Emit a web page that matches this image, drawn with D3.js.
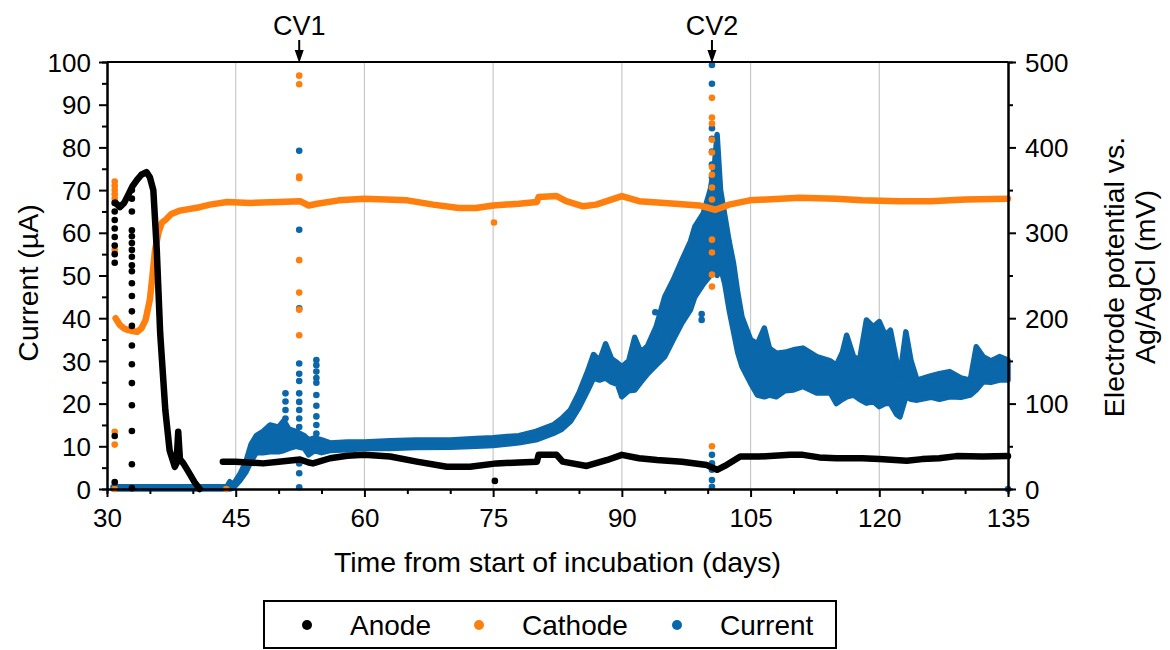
<!DOCTYPE html>
<html lang="en">
    <head>
        <meta charset="UTF-8" />
        <title>Electrode potential and current</title>
        <script src="https://cdnjs.cloudflare.com/ajax/libs/d3/7.9.0/d3.min.js"></script>
        <style>
            body {
                margin: 0;
                background: #fff;
            }
            svg {
                font-family: "Liberation Sans", Arial, sans-serif;
            }
            .axis path,
            .axis line {
                stroke: #000;
                stroke-width: 2px;
            }
            .axis text {
                font-size: 26px;
                fill: #000;
            }
            .grid {
                stroke: #c8c8c8;
                stroke-width: 1.2px;
            }
            .title {
                font-size: 28.5px;
                fill: #000;
            }
        </style>
    </head>
    <body>
        <svg width="1170" height="650"></svg>
        <script>
            // anode potential (mV, right axis), null = gap in logging
            const anodeDays = [31.0, 31.5, 32.0, 32.5, 33.0, 33.5, 34.0, 34.6, 35.0, 35.4, 35.8, 36.2, 36.8, 37.3, 37.9, 38.1, 38.3, 38.5, 38.9, 39.5, 40.2, 40.8, 42, 43.5, 45, 48.2, 50, 52.5, 53.5, 54, 56, 58, 60, 63, 66.1, 69.6, 72.3, 75.4, 78, 80.1, 80.3, 82.4, 83.1, 85.9, 88.3, 90, 92, 94.1, 97, 99.9, 101.1, 102, 103.8, 106, 109.6, 111.1, 113, 115, 118, 120, 123.2, 125, 127, 129, 132, 135];
            const anodeMv = [335, 330, 335, 345, 355, 362, 368, 371, 365, 350, 280, 182, 92, 45, 26, 30, 67, 35, 30, 20, 8, 0, null, 32, 32, 30, 32, 34.5, 31, 30, 36, 39, 40, 38, 32, 26, 26, 30, 31, 32, 40, 40, 32, 27, 34, 40, 36, 34, 32, 28, 22.5, 27, 38, 38, 40, 40, 37, 36, 36, 35, 33, 35, 36, 38.5, 38, 38.5];

            // cathode potential (mV, right axis)
            const cathodeDays = [31.0, 31.5, 32.0, 32.5, 33.0, 33.5, 34.0, 34.5, 35.0, 35.3, 35.6, 36.0, 36.4, 36.8, 37.5, 38.5, 40.8, 42, 44, 46.7, 50, 52.5, 53.5, 54.5, 57, 60, 65, 68, 71, 73, 75, 78, 80.1, 80.3, 82.4, 83.5, 85.5, 87, 88.5, 90, 92, 95, 99, 100.9, 102.5, 104.9, 110.7, 115, 118, 122.4, 126, 130, 135];
            const cathodeMv = [200, 192, 188, 186, 185, 184, 188, 198, 222, 250, 280, 300, 312, 315, 322, 326, 330, 333, 336, 335, 336, 337, 332, 334, 338, 340, 338, 333, 329, 329, 332, 334, 336, 342, 343, 337, 331, 333, 338, 343, 337, 335, 332, 327, 333, 338, 341, 340, 338, 337, 337, 339, 340];

            // current (uA, left axis): lower and upper edge of the noisy band
            const currentDays = [30.7, 44.0, 44.3, 44.7, 45.5, 46.2, 46.8, 47.4, 48.2, 49, 50, 50.6, 51.2, 52, 53, 53.5, 54.2, 55, 56, 58, 60, 63, 66, 70, 73, 75, 78, 80, 82, 83, 84, 85, 86, 86.7, 87.4, 88.1, 88.8, 89.5, 90, 90.8, 91.5, 92.2, 93, 94, 95, 96, 97, 98, 98.5, 99.5, 100.3, 100.8, 101.1, 101.5, 102, 102.5, 103, 103.5, 104, 105, 105.8, 106.6, 107.2, 108, 109, 110, 111.1, 112.7, 114.3, 115, 115.7, 116.2, 117, 117.7, 118.5, 119.3, 120, 120.7, 121.3, 122, 122.4, 123.1, 123.7, 124.4, 126, 127, 128.2, 129.5, 130.6, 131.3, 132.1, 133, 134, 135];
            const currentLow = [0, 0, 0, 0.2, 2, 4, 6.5, 8.5, 8.5, 8.7, 8.7, 9, 9.5, 10, 9.5, 8, 9, 8.5, 9, 9.2, 9.5, 9.5, 9.7, 9.8, 10, 10.2, 10.8, 11.5, 13, 14, 15.8, 19, 23, 26, 25.5, 26, 25, 24.5, 21.6, 23, 23.2, 25, 27, 29, 31, 35, 38.9, 42, 45, 48, 50, 52, 50, 52, 48, 42, 37, 32, 28.7, 24.8, 22, 21.6, 22, 21.6, 23, 23.2, 24, 22.5, 22.5, 20, 21, 21.6, 22, 21, 20.1, 20.5, 19.3, 20, 20, 17.5, 16.9, 21.6, 21, 20.8, 21.5, 21, 21.6, 21.5, 22, 23.2, 25.1, 25, 25.5, 25.5];
            const currentHigh = [0.5, 0.6, 1.7, 1.0, 3.5, 6.5, 10.5, 12.5, 13.5, 15, 14.5, 16, 14, 13.5, 12.5, 11.5, 12, 11.5, 10.8, 11, 11, 11.3, 11.5, 11.5, 11.8, 12, 12.5, 13.5, 15, 16.5, 18.5, 22.5, 27.5, 31.5, 30, 34, 30.5, 29.5, 28.6, 30, 35.5, 32, 33.5, 38, 45, 49, 53.6, 58, 61.4, 64.6, 70, 76, 83, 70, 64, 58, 53, 46, 40.3, 35, 34, 37.7, 33, 31.8, 32, 32.6, 33, 31, 30, 29, 32, 36, 31, 30.2, 39.6, 38, 39.2, 36, 37.2, 30, 26.3, 36.8, 30, 25.5, 26.5, 27, 27.5, 26, 25.5, 33.3, 31, 30, 31, 30.2];

            // single readings: [day, values at that day]
            const anodeSpots = [
                [30.9, [265, 275, 285, 295, 305, 315, 325, 335, 62, 8]],
                [32.9, [350, 340, 325, 303, 296, 288, 280, 272, 262, 255, 241, 226, 208, 191, 168, 146, 124, 98, 68, 29, 1]],
                [75.2, [9.5]],
            ];
            const cathodeSpots = [
                [30.9, [360, 355, 350, 345, 340, 335, 280, 67, 52, 0]],
                [43.9, [0]],
                [52.4, [484, 474, 366, 364, 268, 230, 210, 180]],
                [75.1, [312]],
                [100.5, [458, 435, 428, 409, 394, 377, 368, 353, 339, 292, 277, 251, 237, 50]],
            ];
            const currentSpots = [
                [50.8, [22.4, 20.5, 18.5, 16.5]],
                [52.4, [79.2, 60.7, 42.3, 29.4, 27, 25.3, 22.4, 20.4, 18.5, 16.5, 14.5, 6, 3.7, 0.4]],
                [54.4, [30.2, 29, 27.5, 26, 24.9, 22, 19.5, 17, 15, 13]],
                [93.9, [41.4]],
                [99.3, [39.6, 41]],
                [100.5, [99.3, 94.9, 84.5, 82, 79, 76, 73, 8, 6, 4.5, 2.1, 0.5]],
                [135, [0]],
            ];

            const cvLabels = ["CV1", "CV2"];
            const cvDays = [52.4, 100.5];
            const legendNames = ["Anode", "Cathode", "Current"];

            const xTicks = [30, 45, 60, 75, 90, 105, 120, 135];
            const leftTicks = [0, 10, 20, 30, 40, 50, 60, 70, 80, 90, 100];
            const rightTicks = [0, 100, 200, 300, 400, 500];

            const colors = { anode: "#000000", cathode: "#ff7f0e", current: "#0a67a9" };

            const plot = { left: 107, right: 1008, top: 62, bottom: 489 };
            const svg = d3.select("svg");

            const x = d3.scaleLinear().domain([30, 135]).range([plot.left, plot.right]);
            const yL = d3.scaleLinear().domain([0, 100]).range([plot.bottom, plot.top]);
            const yR = d3.scaleLinear().domain([0, 500]).range([plot.bottom, plot.top]);

            // vertical grid
            svg.append("g")
                .selectAll("line")
                .data(xTicks.slice(1, -1))
                .enter()
                .append("line")
                .attr("class", "grid")
                .attr("x1", (d) => x(d))
                .attr("x2", (d) => x(d))
                .attr("y1", plot.top)
                .attr("y2", plot.bottom);

            // current band
            const idx = (arr) => d3.range(arr.length);
            const band = d3
                .area()
                .x((i) => x(currentDays[i]))
                .y0((i) => yL(currentLow[i]))
                .y1((i) => yL(currentHigh[i]));
            svg.append("path")
                .attr("d", band(idx(currentDays)))
                .attr("fill", colors.current)
                .attr("stroke", colors.current)
                .attr("stroke-width", 5.5)
                .attr("stroke-linejoin", "round");

            const drawSpots = (spots, y, color) => {
                const pts = [];
                spots.forEach(([day, vals]) => vals.forEach((v) => pts.push([day, v])));
                svg.append("g")
                    .selectAll("circle")
                    .data(pts)
                    .enter()
                    .append("circle")
                    .attr("cx", (d) => x(d[0]))
                    .attr("cy", (d) => y(d[1]))
                    .attr("r", 3.3)
                    .attr("fill", color);
            };
            drawSpots(currentSpots, yL, colors.current);

            const trace = (days, vals, color) => {
                const line = d3
                    .line()
                    .defined((i) => vals[i] != null)
                    .x((i) => x(days[i]))
                    .y((i) => yR(vals[i]));
                svg.append("path")
                    .attr("d", line(idx(days)))
                    .attr("fill", "none")
                    .attr("stroke", color)
                    .attr("stroke-width", 6.5)
                    .attr("stroke-linejoin", "round")
                    .attr("stroke-linecap", "round");
            };
            trace(cathodeDays, cathodeMv, colors.cathode);
            drawSpots(cathodeSpots, yR, colors.cathode);
            trace(anodeDays, anodeMv, colors.anode);
            drawSpots(anodeSpots, yR, colors.anode);

            // axes
            const minor = (from, to, step, skip) => d3.range(from, to + 0.001, step).filter((v) => !skip.includes(v));

            const bottom = svg.append("g").attr("class", "axis").attr("transform", `translate(0,${plot.bottom})`);
            bottom.call(d3.axisBottom(x).tickValues(xTicks).tickSize(8).tickSizeOuter(0));
            bottom.selectAll("text").attr("y", 38).attr("dy", 0);
            bottom.append("g").call(d3.axisBottom(x).tickValues(minor(30, 135, 5, xTicks)).tickSize(5).tickFormat(""));

            const left = svg.append("g").attr("class", "axis").attr("transform", `translate(${plot.left},0)`);
            left.call(d3.axisLeft(yL).tickValues(leftTicks).tickSize(8).tickSizeOuter(0));
            left.selectAll("text").attr("x", -16).attr("dy", "0.35em");
            left.append("g").call(d3.axisLeft(yL).tickValues(minor(0, 100, 5, leftTicks)).tickSize(5).tickFormat(""));

            const right = svg.append("g").attr("class", "axis").attr("transform", `translate(${plot.right},0)`);
            right.call(d3.axisRight(yR).tickValues(rightTicks).tickSize(8).tickSizeOuter(0));
            right.selectAll("text").attr("x", 17).attr("dy", "0.35em");
            right.append("g").call(d3.axisRight(yR).tickValues(minor(0, 500, 50, rightTicks)).tickSize(5).tickFormat(""));

            svg.selectAll(".axis g g .domain").remove();

            svg.append("line")
                .attr("x1", plot.left)
                .attr("x2", plot.right)
                .attr("y1", plot.top)
                .attr("y2", plot.top)
                .attr("stroke", "#000")
                .attr("stroke-width", 2);

            // titles
            svg.append("text")
                .attr("class", "title")
                .attr("x", (plot.left + plot.right) / 2)
                .attr("y", 572)
                .attr("text-anchor", "middle")
                .text("Time from start of incubation (days)");

            svg.append("text")
                .attr("class", "title")
                .attr("transform", "translate(38,283) rotate(-90)")
                .attr("text-anchor", "middle")
                .text("Current (\u00b5A)");

            const rt = svg.append("text").attr("class", "title").attr("transform", "translate(1124,277) rotate(-90)").attr("text-anchor", "middle");
            rt.append("tspan").attr("x", 0).attr("dy", 0).text("Electrode potential vs.");
            rt.append("tspan").attr("x", 0).attr("dy", 31).text("Ag/AgCl (mV)");

            // CV markers
            cvDays.forEach((d, i) => {
                const cx = x(d);
                svg.append("text")
                    .attr("x", cx)
                    .attr("y", 35)
                    .attr("text-anchor", "middle")
                    .attr("font-size", 27)
                    .text(cvLabels[i]);
                svg.append("line").attr("x1", cx).attr("x2", cx).attr("y1", 40).attr("y2", 52).attr("stroke", "#000").attr("stroke-width", 2);
                svg.append("path")
                    .attr("d", `M${cx - 4.5},50L${cx + 4.5},50L${cx},63Z`)
                    .attr("fill", "#000");
            });

            // legend
            const lg = svg.append("g");
            lg.append("rect").attr("x", 264).attr("y", 601).attr("width", 572).attr("height", 47).attr("fill", "#fff").attr("stroke", "#000").attr("stroke-width", 2);
            const legendX = [307, 479, 677];
            const legendColors = [colors.anode, colors.cathode, colors.current];
            legendNames.forEach((name, i) => {
                lg.append("circle").attr("cx", legendX[i]).attr("cy", 625).attr("r", 5).attr("fill", legendColors[i]);
                lg.append("text")
                    .attr("x", legendX[i] + 43)
                    .attr("y", 635)
                    .attr("font-size", 28)
                    .text(name);
            });
        </script>
    </body>
</html>
